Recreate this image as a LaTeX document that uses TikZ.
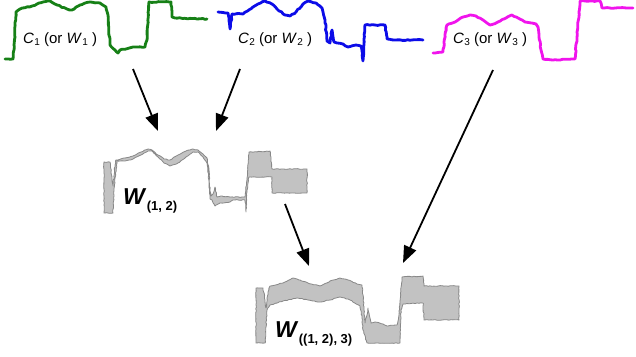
\documentclass[tikz,border=0pt]{standalone}
\usepackage{fontspec}
\setmainfont{Liberation Sans}
\usetikzlibrary{arrows.meta,decorations.pathmorphing}
\definecolor{cgreen}{RGB}{22,128,22}
\definecolor{cblue}{RGB}{12,12,232}
\definecolor{cmag}{RGB}{240,20,236}
\definecolor{bandfill}{RGB}{194,194,194}
\definecolor{bandedge}{RGB}{136,136,136}
\newcommand{\clab}[2]{\textit{#1}\kern0.3pt\raisebox{-0.35ex}{\fontsize{10}{10}\selectfont #2}}
\newcommand{\wlabel}[2]{\textbf{\textit{#1}}\kern0.3pt\raisebox{-6.5pt}{\fontsize{13}{13}\selectfont\bfseries #2}}
\tikzset{
  curvestyle/.style={line width=2.8pt, line join=round, line cap=round,
    decorate, decoration={random steps, segment length=2.5pt, amplitude=0.45pt}},
  band/.style={fill=bandfill, draw=bandedge, line width=0.8pt, line join=round,
    decorate, decoration={random steps, segment length=2pt, amplitude=0.4pt}},
  clabel/.style={inner sep=0pt, font=\fontsize{15}{15}\selectfont},
  wlab/.style={inner sep=0pt, font=\fontsize{23}{23}\selectfont},
  arr/.style={line width=1.8pt, -{Triangle[length=17pt,width=13pt]}, shorten >=0pt}
}
\begin{document}
\begin{tikzpicture}[x=1pt,y=-1pt]
\pgfmathsetseed{7}
\useasboundingbox (0,0) rectangle (636,356);
% C1 green
\draw[curvestyle, cgreen] (5,59) -- (13,59) -- (14,50) -- (16,12) -- (20,9) -- (32,6) -- (43,2) -- (50,1) -- (57,5) -- (67,9) -- (72,10) -- (80,5) -- (90,2) -- (100,3) -- (106,7) -- (108,15) -- (110,45) -- (115,50) -- (118,53) -- (120,50) -- (133,47) -- (145,47) -- (147,40) -- (149,2) -- (171,2) -- (172,17) -- (175,18) -- (207,19);
% C2 blue
\draw[curvestyle, cblue] (218,12) -- (228,13) -- (230,29) -- (232,14) -- (243,14) -- (253,7) -- (258,4) -- (265,1) -- (272,4) -- (277,9) -- (285,15) -- (290,16) -- (296,12) -- (303,4) -- (308,1) -- (316,3) -- (322,8) -- (325,20) -- (327,41) -- (330,43) -- (332,30) -- (334,42) -- (337,43) -- (343,44) -- (348,47) -- (356,45) -- (361,46) -- (363,61) -- (364,44) -- (365,25) -- (385,25) -- (387,39) -- (395,40) -- (423,40);
% C3 magenta
\draw[curvestyle, cmag] (433,53) -- (443,52) -- (445,35) -- (447,25) -- (455,22) -- (463,17) -- (470,15) -- (476,16) -- (483,20) -- (490,25) -- (496,23) -- (504,19) -- (512,15) -- (518,18) -- (525,22) -- (536,24) -- (538,27) -- (541,50) -- (543,59) -- (553,60) -- (575,59) -- (577,37) -- (580,1) -- (600,1) -- (602,8) -- (633,8);
% labels
\node[clabel, anchor=base west] (l1) at (23,43) {\clab{C}{1} (or \clab{W}{1} )};
\node[clabel, anchor=base west] (l2) at (238,43) {\clab{C}{2} (or \clab{W}{2} )};
\node[clabel, anchor=base west] (l3) at (453,43) {\clab{C}{3} (or \clab{W}{3} )};
% W(1,2) band
\draw[band] (104,162) -- (110,162) -- (112,178) -- (113,186) -- (115,165) -- (116,160) -- (125,158) -- (133,156) -- (141,152) -- (148,149) -- (152,150) -- (158,155) -- (164,159) -- (170,160) -- (178,155) -- (186,151) -- (193,149) -- (198,150) -- (203,154) -- (207,158) -- (209,170) -- (210,190) -- (211,196) -- (213,194) -- (215,187) -- (217,197) -- (222,196) -- (230,197) -- (245,197) -- (247,180) -- (249,152) -- (270,151) -- (272,169) -- (307,169) -- (307,193) -- (272,193) -- (272,177) -- (249,177) -- (247,190) -- (246,212) -- (245,200) -- (233,200) -- (230,202) -- (220,203) -- (215,206) -- (212,200) -- (210,199) -- (209,182) -- (207,163) -- (203,157) -- (198,152) -- (193,152) -- (186,157) -- (178,163) -- (170,166) -- (164,163) -- (158,157) -- (152,151) -- (148,151) -- (141,155) -- (133,159) -- (125,161) -- (117,161) -- (114,190) -- (113,213) -- (104,213) -- cycle;
% W((1,2),3) band
\draw[band] (256,288) -- (263,288) -- (265,300) -- (266,308) -- (268,292) -- (270,286) -- (283,283) -- (293,278) -- (300,280) -- (308,283) -- (320,286) -- (330,281) -- (340,278) -- (348,280) -- (357,284) -- (362,285) -- (363,295) -- (364,310) -- (365,323) -- (367,315) -- (368,308) -- (370,318) -- (371,323) -- (375,322) -- (383,324) -- (387,326) -- (397,325) -- (399,315) -- (402,277) -- (423,276) -- (424,286) -- (459,286) -- (459,320) -- (424,320) -- (423,303) -- (403,304) -- (401,310) -- (400,343) -- (367,343) -- (363,330) -- (362,318) -- (360,306) -- (350,300) -- (340,297) -- (330,300) -- (320,302) -- (308,300) -- (297,298) -- (283,301) -- (270,305) -- (267,310) -- (265,343) -- (256,343) -- cycle;
% W labels
\node[wlab, anchor=base west] (w12) at (123,204) {\wlabel{W}{(1, 2)}};
\node[wlab, anchor=base west] (w123) at (275,337) {\wlabel{W}{((1, 2), 3)}};
% arrows
\coordinate (a1s) at (133,69); \coordinate (a1e) at (158,131);
\coordinate (a2s) at (240,69); \coordinate (a2e) at (216,131);
\coordinate (a3s) at (493,70); \coordinate (a3e) at (403,263);
\coordinate (a4s) at (285,204); \coordinate (a4e) at (309,266);
\draw[arr] (a1s) -- (a1e);
\draw[arr] (a2s) -- (a2e);
\draw[arr] (a3s) -- (a3e);
\draw[arr] (a4s) -- (a4e);
\end{tikzpicture}
\end{document}
